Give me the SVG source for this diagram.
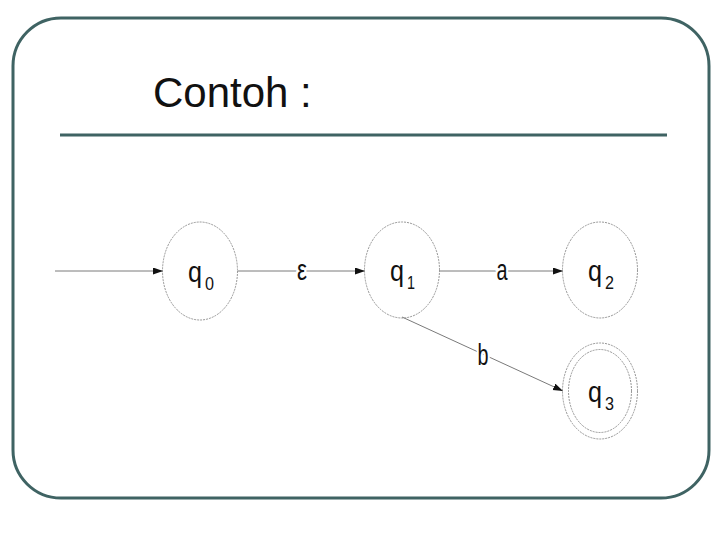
<svg xmlns="http://www.w3.org/2000/svg" width="720" height="540" viewBox="0 0 720 540">
<style>
.frame{fill:none;stroke:#3f6363;stroke-width:3}
.st{fill:none;stroke:#8a8a8a;stroke-width:0.9;stroke-dasharray:2 1}
.edge{fill:none;stroke:#7a7a7a;stroke-width:1}
.lbl{font-family:"Liberation Sans",Arial,sans-serif;fill:#111}
.el{font-family:"Liberation Sans",Arial,sans-serif;fill:#111;font-size:29px;stroke:#fff;stroke-width:6;paint-order:stroke;text-anchor:middle}
</style>
<defs>
<marker id="arr" markerUnits="userSpaceOnUse" markerWidth="11" markerHeight="8" refX="10" refY="3.5" orient="auto">
<path d="M0,0 L10,3.5 L0,7 z" fill="#111"/>
</marker>
</defs>
<rect width="720" height="540" fill="#fff"/>
<rect class="frame" x="13" y="18" width="696" height="480" rx="48" ry="48"/>
<line x1="60" y1="135" x2="667" y2="135" stroke="#3f6363" stroke-width="3"/>
<text x="153" y="107" font-family="'Liberation Sans',Arial,sans-serif" font-size="42" fill="#111">Contoh :</text>
<g id="connectors">
<line class="edge" x1="55" y1="271" x2="163" y2="271" marker-end="url(#arr)"/>
<line class="edge" x1="238" y1="271" x2="365" y2="271" marker-end="url(#arr)"/>
<line class="edge" x1="440" y1="271" x2="563" y2="271" marker-end="url(#arr)"/>
<line class="edge" x1="402" y1="317" x2="563" y2="391" marker-end="url(#arr)"/>
<text class="el" x="302" y="280" textLength="10" lengthAdjust="spacingAndGlyphs">ε</text>
<text class="el" x="502" y="280" textLength="11" lengthAdjust="spacingAndGlyphs">a</text>
<text class="el" x="483" y="365" textLength="11" lengthAdjust="spacingAndGlyphs">b</text>
</g>
<g id="q0">
<ellipse class="st" cx="200" cy="271" rx="37.5" ry="49"/>
<text class="lbl" x="188" y="282" font-size="30" textLength="14" lengthAdjust="spacingAndGlyphs">q</text>
<text class="lbl" x="205" y="290" font-size="19" textLength="9" lengthAdjust="spacingAndGlyphs">0</text>
</g>
<g id="q1">
<ellipse class="st" cx="402" cy="270" rx="37.5" ry="48"/>
<text class="lbl" x="390" y="281" font-size="30" textLength="14" lengthAdjust="spacingAndGlyphs">q</text>
<text class="lbl" x="407" y="289" font-size="19" textLength="8" lengthAdjust="spacingAndGlyphs">1</text>
</g>
<g id="q2">
<ellipse class="st" cx="600" cy="270" rx="37.5" ry="48"/>
<text class="lbl" x="588" y="281" font-size="30" textLength="14" lengthAdjust="spacingAndGlyphs">q</text>
<text class="lbl" x="605" y="289" font-size="19" textLength="9" lengthAdjust="spacingAndGlyphs">2</text>
</g>
<g id="q3">
<ellipse class="st" cx="600" cy="391" rx="37.5" ry="48"/>
<ellipse class="st" cx="600" cy="391" rx="31.5" ry="41.5"/>
<text class="lbl" x="588" y="402" font-size="30" textLength="14" lengthAdjust="spacingAndGlyphs">q</text>
<text class="lbl" x="605" y="410" font-size="19" textLength="9" lengthAdjust="spacingAndGlyphs">3</text>
</g>
</svg>
